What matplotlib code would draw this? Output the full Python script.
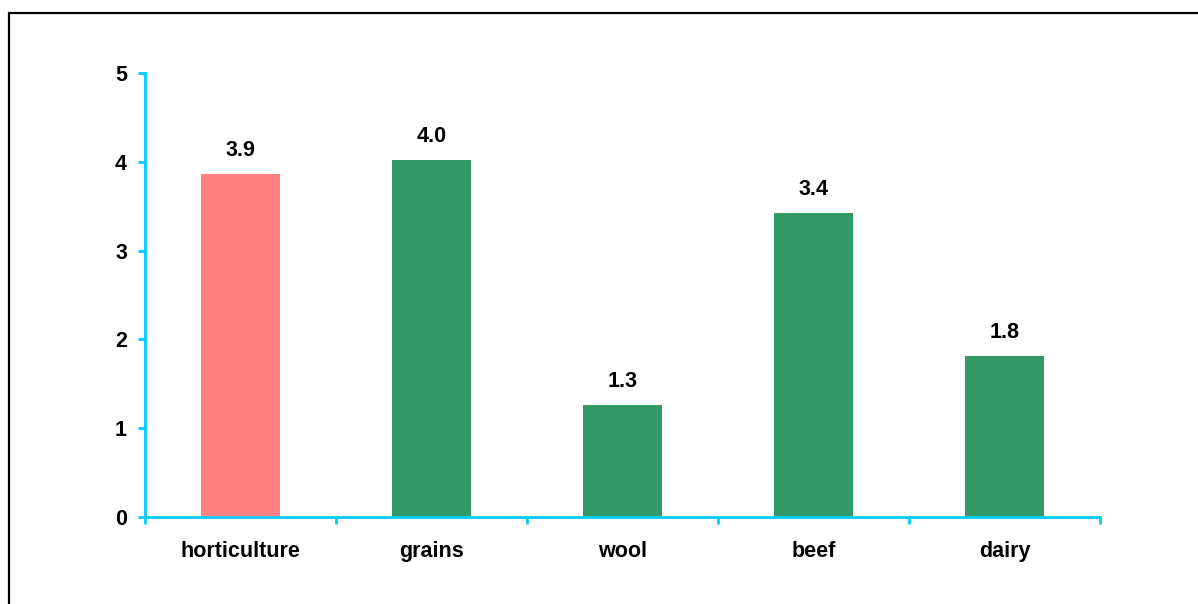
import matplotlib
matplotlib.use('Agg')
import matplotlib.pyplot as plt
from matplotlib.patches import Rectangle
from matplotlib.ticker import FixedLocator

categories = ['horticulture', 'grains', 'wool', 'beef', 'dairy']
values = [3.86, 4.02, 1.26, 3.42, 1.81]
colors = ['#FF8080', '#339966', '#339966', '#339966', '#339966']
yticks = [0, 1, 2, 3, 4, 5]

AXIS_COLOR = '#00CCFF'
FS = 15.5
plt.rcParams['font.family'] = ['Liberation Sans', 'DejaVu Sans']
plt.rcParams['font.weight'] = 'bold'

fig = plt.figure(figsize=(11.98, 6.04), dpi=100)
ax = fig.add_axes([145 / 1198, 87 / 604, 955 / 1198, 444 / 604])

x = list(range(len(categories)))
ax.bar(x, values, width=0.41, color=colors, zorder=2)
for xi, v in zip(x, values):
    ax.text(xi, v + 0.15, f'{v:.1f}', ha='center', va='bottom',
            fontsize=FS, fontweight='bold')

ax.set_xlim(-0.5, len(categories) - 0.5)
ax.set_ylim(0, 5)
ax.set_yticks(yticks)
ax.set_xticks(x)
ax.set_xticklabels(categories, fontsize=FS, fontweight='bold')
ax.xaxis.set_minor_locator(FixedLocator([i - 0.5 for i in range(len(categories) + 1)]))
ax.tick_params(axis='x', which='major', length=0, pad=17)
ax.tick_params(axis='x', which='minor', length=5, width=2, color=AXIS_COLOR, direction='out')
ax.tick_params(axis='y', length=5, width=2, color=AXIS_COLOR, direction='out', labelsize=FS, pad=8)

for side in ['top', 'right']:
    ax.spines[side].set_visible(False)
for side in ['left', 'bottom']:
    ax.spines[side].set_color(AXIS_COLOR)
    ax.spines[side].set_linewidth(2)

# chart frame, clipped by right and bottom edges of the image
fig.patches.append(Rectangle((9 / 1198, -0.1), 1.2, (604 - 13) / 604 + 0.1,
                             transform=fig.transFigure, fill=False,
                             edgecolor='black', linewidth=1.6))

fig.savefig('out.png', dpi=100)
